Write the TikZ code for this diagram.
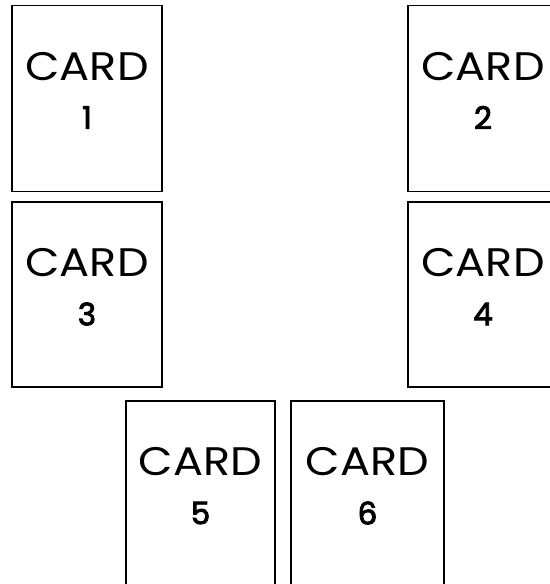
\documentclass[tikz,border=0pt]{standalone}
\usepackage{fontspec}
\setmainfont{Poppins}
\newfontfamily\cardnumfont[FakeBold=3]{Poppins}
\begin{document}
\begin{tikzpicture}[x=1bp,y=-1bp,
  card/.style={draw=black, line width=1.6bp, fill=white, minimum width=150bp, minimum height=186bp, anchor=north west, inner sep=0pt, outer sep=0pt},
  cardword/.style={font=\fontsize{40}{40}\selectfont, inner sep=0pt, anchor=center, xscale=1.12},
  cardnum/.style={font=\cardnumfont\fontsize{31}{31}\selectfont, inner sep=0pt, anchor=center}]
\useasboundingbox (0,0) rectangle (550,584);
\clip (0,0) rectangle (550,584);
\fill[white] (0,0) rectangle (550,584);
\node[card] (c1) at (12,5.5) {};
\node[card] (c2) at (408,5.5) {};
\node[card, minimum height=185bp] (c3) at (12,202) {};
\node[card, minimum height=185bp] (c4) at (408,202) {};
\node[card, minimum width=149bp, minimum height=200bp] (c5) at (126,401) {};
\node[card, minimum width=153bp, minimum height=200bp] (c6) at (291,401) {};
\foreach \c/\n in {c1/1,c2/2,c3/3,c4/4,c5/5,c6/6}{
  \node[cardword] (w\n) at ([yshift=-61bp]\c.north) {CARD};
  \node[cardnum] (n\n) at ([yshift=-112bp]\c.north) {\n};
}
\end{tikzpicture}
\end{document}
